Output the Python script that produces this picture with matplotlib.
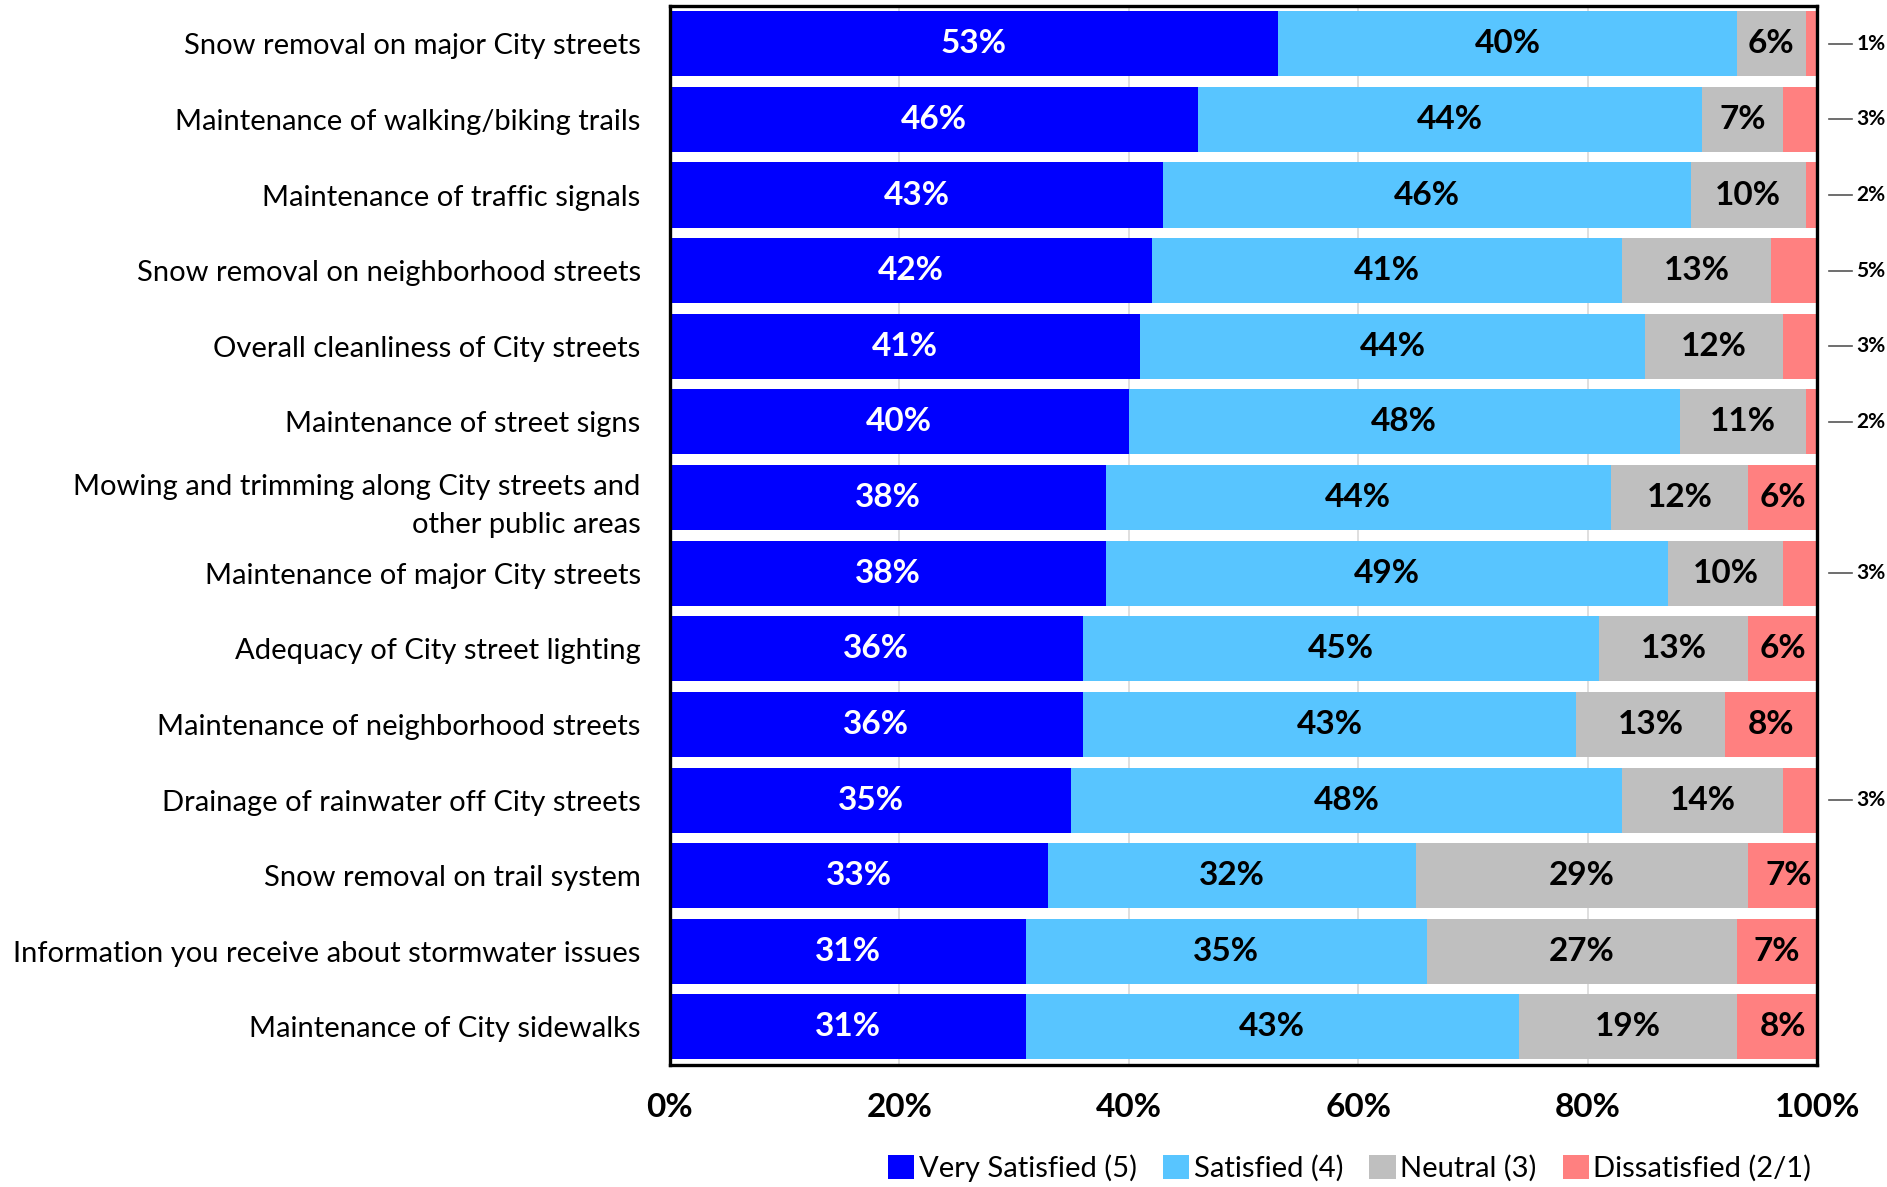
import matplotlib.pyplot as plt
import numpy as np

# service items, top to bottom
items = [
    "Snow removal on major City streets",
    "Maintenance of walking/biking trails",
    "Maintenance of traffic signals",
    "Snow removal on neighborhood streets",
    "Overall cleanliness of City streets",
    "Maintenance of street signs",
    "Mowing and trimming along City streets and\nother public areas",
    "Maintenance of major City streets",
    "Adequacy of City street lighting",
    "Maintenance of neighborhood streets",
    "Drainage of rainwater off City streets",
    "Snow removal on trail system",
    "Information you receive about stormwater issues",
    "Maintenance of City sidewalks",
]

very_satisfied = [53, 46, 43, 42, 41, 40, 38, 38, 36, 36, 35, 33, 31, 31]
satisfied = [40, 44, 46, 41, 44, 48, 44, 49, 45, 43, 48, 32, 35, 43]
neutral = [6, 7, 10, 13, 12, 11, 12, 10, 13, 13, 14, 29, 27, 19]
dissatisfied = [1, 3, 2, 5, 3, 2, 6, 3, 6, 8, 3, 7, 7, 8]

series = [very_satisfied, satisfied, neutral, dissatisfied]
names = ["Very Satisfied (5)", "Satisfied (4)", "Neutral (3)", "Dissatisfied (2/1)"]
colors = ["#0000FF", "#58C5FF", "#BFBFBF", "#FF8080"]
txt_colors = ["white", "black", "black", "black"]

plt.rcParams['font.family'] = ['Lato', 'DejaVu Sans']

fig = plt.figure(figsize=(18.87, 11.87), dpi=100)
ax = fig.add_axes([0.355, 0.103, 0.608, 0.892])

y = np.arange(len(items))
left = np.zeros(len(items))
bars = []
for vals, name, col, tc in zip(series, names, colors, txt_colors):
    vals = np.array(vals, dtype=float)
    b = ax.barh(y, vals, left=left, height=0.86, color=col, label=name, zorder=2)
    bars.append(b)
    for i, v in enumerate(vals):
        cx = left[i] + v / 2
        if col == "#FF8080" and v <= 5:
            # small slices get a label outside the frame with a leader line
            ax.plot([101.0, 103.0], [i, i], color="#555555", lw=1.2, clip_on=False)
            ax.text(103.4, i, f"{v:.0f}%", ha="left", va="center", fontsize=15,
                    fontweight="bold", clip_on=False)
        else:
            ax.text(cx, i, f"{v:.0f}%", ha="center", va="center", fontsize=24,
                    fontweight="bold", color=tc, zorder=3)
    left += vals

ax.set_xlim(0, 100)
ax.set_ylim(13.5, -0.5)
ax.set_yticks(y)
ax.set_yticklabels(items, fontsize=21, linespacing=1.55)
ax.set_xticks([0, 20, 40, 60, 80, 100])
ax.set_xticklabels([f"{t}%" for t in [0, 20, 40, 60, 80, 100]],
                   fontsize=24, fontweight="bold")
ax.tick_params(axis="y", length=0, pad=21)
ax.tick_params(axis="x", length=0, pad=20)
ax.grid(axis="x", color="#D9D9D9", lw=1.2, zorder=0)
for s in ax.spines.values():
    s.set_linewidth(2.4)
    s.set_color("black")

leg = fig.legend(handles=bars, labels=names, loc="center right",
                 bbox_to_anchor=(0.966, 0.016), ncol=4, frameon=False,
                 prop={'size': 21},
                 handlelength=0.9, handleheight=0.9, handletextpad=0.15,
                 columnspacing=0.9, borderaxespad=0)

fig.savefig("out.png", dpi=100)
